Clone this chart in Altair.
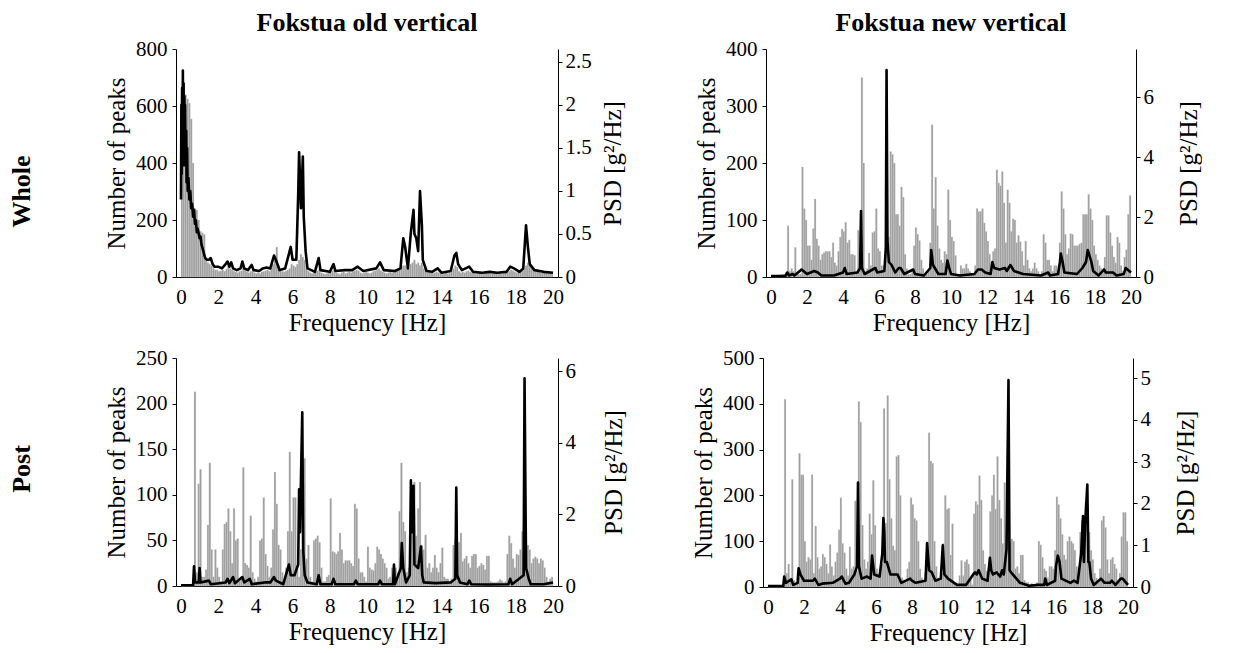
import altair as alt
import pandas as pd

# ---------------- data ----------------
# histogram bins: 0.1 Hz wide, starting at 0.0 ... 19.9 Hz
BIN_START = [round(k * 0.1, 1) for k in range(200)]

old_whole_counts = [
    650, 680, 640, 625, 610, 555, 400, 240, 235, 200,
    160, 155, 150, 60, 50, 45, 40, 30, 25, 25,
    20, 22, 25, 20, 28, 40, 30, 25, 20, 18,
    15, 20, 22, 35, 25, 18, 15, 20, 22, 15,
    12, 15, 12, 18, 20, 22, 25, 20, 30, 45,
    60, 105, 40, 25, 20, 18, 22, 25, 30, 45,
    40, 35, 45, 60, 80, 70, 60, 30, 20, 15,
    12, 15, 18, 22, 30, 15, 12, 10, 12, 15,
    18, 22, 25, 15, 12, 10, 15, 18, 12, 15,
    18, 15, 20, 22, 25, 22, 15, 12, 15, 18,
    15, 12, 15, 20, 22, 25, 30, 22, 18, 15,
    12, 15, 18, 15, 20, 22, 25, 30, 35, 40,
    40, 35, 30, 45, 50, 60, 45, 50, 40, 50,
    30, 20, 15, 18, 15, 12, 15, 18, 15, 12,
    10, 12, 15, 12, 15, 20, 30, 40, 35, 20,
    15, 18, 15, 20, 22, 18, 15, 12, 10, 12,
    15, 12, 10, 12, 15, 12, 10, 12, 15, 12,
    10, 12, 10, 12, 15, 18, 20, 25, 22, 18,
    15, 18, 22, 25, 30, 40, 50, 40, 30, 25,
    20, 22, 18, 15, 20, 18, 15, 12, 15, 12,
]

new_whole_counts = [
    2, 2, 3, 3, 3, 4, 5, 5, 8, 90,
    10, 15, 10, 52, 8, 5, 5, 193, 120, 100,
    55, 55, 30, 85, 137, 67, 55, 30, 40, 43,
    45, 45, 45, 35, 60, 25, 20, 45, 70, 84,
    80, 96, 60, 65, 40, 40, 38, 10, 82, 30,
    350, 200, 10, 15, 42, 20, 78, 80, 120, 50,
    45, 20, 20, 10, 175, 70, 220, 215, 200, 110,
    110, 90, 158, 140, 40, 15, 5, 5, 10, 55,
    87, 75, 64, 30, 15, 5, 5, 10, 60, 267,
    120, 175, 90, 50, 30, 25, 45, 40, 153, 100,
    70, 63, 38, 5, 5, 20, 15, 15, 23, 15,
    10, 5, 5, 20, 120, 115, 115, 120, 95, 80,
    63, 40, 25, 45, 50, 188, 165, 160, 185, 130,
    60, 153, 130, 80, 102, 100, 60, 73, 62, 45,
    20, 63, 30, 15, 10, 15, 25, 15, 10, 5,
    10, 75, 60, 30, 30, 20, 10, 20, 20, 10,
    60, 150, 120, 75, 40, 50, 76, 75, 55, 55,
    55, 58, 60, 110, 110, 110, 145, 120, 100, 55,
    40, 30, 20, 15, 10, 35, 108, 108, 78, 55,
    35, 25, 70, 60, 20, 10, 35, 48, 110, 143,
]

old_post_counts = [
    0, 0, 0, 0, 0, 0, 0, 213, 15, 112,
    128, 10, 10, 18, 67, 135, 40, 10, 40, 20,
    10, 5, 40, 68, 70, 85, 60, 25, 85, 50,
    52, 5, 10, 130, 25, 23, 20, 77, 15, 8,
    5, 10, 50, 52, 97, 35, 22, 10, 20, 62,
    125, 90, 45, 40, 15, 5, 20, 60, 147, 60,
    97, 97, 20, 10, 40, 120, 140, 30, 45, 10,
    5, 50, 52, 55, 48, 20, 5, 5, 10, 12,
    96, 38, 37, 35, 38, 58, 40, 25, 28, 28,
    28, 25, 22, 90, 85, 30, 15, 15, 10, 5,
    43, 20, 18, 17, 25, 43, 40, 35, 30, 25,
    20, 8, 10, 20, 22, 20, 15, 82, 135, 70,
    60, 15, 20, 80, 110, 114, 55, 85, 114, 45,
    40, 56, 20, 25, 15, 20, 34, 20, 15, 25,
    42, 10, 8, 8, 5, 8, 45, 50, 15, 48,
    58, 27, 30, 33, 25, 20, 33, 35, 35, 20,
    22, 25, 23, 18, 33, 33, 5, 4, 4, 4,
    5, 7, 6, 4, 5, 35, 55, 47, 30, 20,
    35, 34, 40, 60, 68, 60, 45, 40, 25, 30,
    32, 30, 25, 30, 28, 20, 10, 5, 8, 10,
]

new_post_counts = [
    0, 0, 0, 0, 0, 0, 0, 0, 0, 410,
    30, 50, 20, 235, 15, 10, 30, 292, 245, 245,
    100, 55, 65, 60, 245, 30, 133, 65, 40, 45,
    72, 65, 50, 30, 93, 45, 25, 55, 75, 125,
    195, 95, 75, 40, 25, 88, 40, 45, 188, 35,
    405, 360, 135, 60, 40, 55, 160, 115, 233, 135,
    40, 30, 30, 50, 390, 140, 418, 235, 150, 90,
    80, 285, 288, 200, 20, 15, 10, 40, 55, 195,
    180, 150, 145, 100, 40, 20, 10, 30, 95, 337,
    275, 270, 100, 45, 20, 15, 25, 95, 200, 170,
    172, 70, 138, 10, 5, 5, 25, 58, 25, 55,
    60, 50, 20, 5, 160, 187, 180, 243, 190, 80,
    50, 35, 20, 165, 200, 245, 170, 285, 190, 150,
    95, 228, 120, 115, 100, 105, 100, 40, 45, 30,
    70, 70, 15, 10, 10, 5, 8, 5, 5, 10,
    100, 92, 65, 40, 35, 20, 45, 45, 40, 80,
    197, 180, 150, 115, 70, 60, 100, 110, 100, 95,
    80, 45, 40, 120, 145, 150, 185, 150, 120, 80,
    60, 30, 20, 10, 40, 145, 155, 130, 60, 30,
    60, 65, 50, 40, 10, 30, 110, 163, 163, 100,
]

# PSD curves: (frequency [Hz], PSD [g^2/Hz])
old_whole_psd = [
    (0.0, 0.9), (0.02, 2.0), (0.04, 1.2), (0.06, 2.2), (0.08, 1.4), (0.1, 2.4),
    (0.12, 1.5), (0.14, 2.25), (0.16, 1.3), (0.18, 2.1), (0.2, 1.6), (0.22, 2.0),
    (0.25, 1.3), (0.28, 1.7), (0.3, 1.1), (0.33, 1.5), (0.36, 1.0), (0.4, 1.15),
    (0.45, 0.9), (0.5, 1.0), (0.55, 0.8), (0.6, 0.85), (0.65, 0.7), (0.7, 0.78),
    (0.75, 0.62), (0.8, 0.66), (0.85, 0.52), (0.9, 0.56), (1.0, 0.45), (1.05, 0.47),
    (1.1, 0.38), (1.2, 0.3), (1.3, 0.22), (1.4, 0.2), (1.5, 0.2), (1.6, 0.22),
    (1.7, 0.15),
    (1.8, 0.12), (2.0, 0.12), (2.2, 0.1), (2.4, 0.15), (2.5, 0.18), (2.6, 0.12),
    (2.7, 0.17), (2.8, 0.1), (3.0, 0.08), (3.2, 0.1), (3.3, 0.18), (3.4, 0.1),
    (3.6, 0.08), (3.8, 0.14), (3.9, 0.08), (4.2, 0.07), (4.4, 0.1), (4.6, 0.11),
    (4.8, 0.1), (5.0, 0.25), (5.1, 0.2), (5.3, 0.08), (5.6, 0.1), (5.9, 0.35),
    (6.0, 0.2), (6.2, 0.2), (6.3, 0.95), (6.35, 1.45), (6.45, 0.8), (6.55, 1.4),
    (6.6, 0.7), (6.7, 0.3), (6.8, 0.1), (7.2, 0.06), (7.4, 0.22), (7.5, 0.08),
    (8.0, 0.06), (8.2, 0.15), (8.3, 0.07), (8.8, 0.08), (9.2, 0.08), (9.5, 0.12),
    (9.8, 0.07), (10.5, 0.1), (10.7, 0.17), (10.9, 0.08), (11.5, 0.07), (11.8, 0.1),
    (11.95, 0.45), (12.05, 0.35), (12.2, 0.1), (12.35, 0.5), (12.5, 0.78), (12.55, 0.5),
    (12.65, 0.45), (12.75, 0.3), (12.85, 1.0), (12.95, 0.6), (13.0, 0.2), (13.2, 0.07),
    (13.5, 0.06), (13.8, 0.1), (14.0, 0.05), (14.5, 0.07), (14.7, 0.25), (14.8, 0.28),
    (14.9, 0.15), (15.1, 0.08), (15.5, 0.12), (15.7, 0.06), (16.2, 0.05), (16.6, 0.06),
    (17.0, 0.05), (17.5, 0.06), (17.7, 0.12), (17.9, 0.1), (18.2, 0.06), (18.4, 0.1),
    (18.55, 0.6), (18.65, 0.35), (18.75, 0.15), (19.0, 0.08), (19.5, 0.06), (20.0, 0.05),
]

new_whole_psd = [
    (0.0, 0.03), (0.8, 0.04), (0.9, 0.15), (1.0, 0.05), (1.2, 0.1), (1.3, 0.05),
    (1.7, 0.25), (1.8, 0.2), (2.0, 0.1), (2.4, 0.2), (2.6, 0.15), (2.8, 0.05),
    (3.5, 0.05), (4.0, 0.15), (4.1, 0.3), (4.2, 0.1), (4.8, 0.15), (4.95, 0.3),
    (5.0, 2.2), (5.05, 0.3), (5.2, 0.1), (5.8, 0.3), (5.9, 0.15), (6.3, 0.2),
    (6.38, 1.0), (6.42, 6.9), (6.47, 1.2), (6.55, 0.5), (6.7, 0.4), (6.9, 0.15),
    (7.1, 0.3), (7.2, 0.3), (7.4, 0.1), (7.9, 0.25), (8.0, 0.1), (8.5, 0.05),
    (8.85, 0.3), (8.9, 0.9), (9.0, 0.4), (9.1, 0.3), (9.3, 0.1), (9.7, 0.1),
    (9.8, 0.55), (9.9, 0.3), (10.0, 0.1), (10.5, 0.05), (11.3, 0.1), (11.5, 0.25),
    (11.7, 0.25), (11.9, 0.15), (12.2, 0.1), (12.3, 0.5), (12.4, 0.3), (12.7, 0.25),
    (13.0, 0.3), (13.1, 0.2), (13.3, 0.4), (13.5, 0.2), (14.0, 0.1), (15.0, 0.05),
    (15.4, 0.15), (15.5, 0.05), (15.95, 0.1), (16.05, 0.5), (16.1, 0.78), (16.2, 0.5),
    (16.3, 0.15), (17.0, 0.1), (17.3, 0.3), (17.5, 0.5), (17.6, 0.9), (17.7, 0.7),
    (17.8, 0.5), (17.9, 0.2), (18.2, 0.05), (18.5, 0.25), (18.6, 0.15), (19.0, 0.15),
    (19.2, 0.05), (19.6, 0.1), (19.7, 0.3), (19.8, 0.25), (20.0, 0.15),
]

old_post_psd = [
    (0.0, 0.02), (0.65, 0.02), (0.7, 0.55), (0.75, 0.1), (0.95, 0.1), (1.0, 0.5),
    (1.05, 0.1), (1.5, 0.15), (1.6, 0.05), (2.4, 0.1), (2.5, 0.2), (2.6, 0.08),
    (2.8, 0.25), (2.9, 0.08), (3.3, 0.25), (3.4, 0.1), (3.7, 0.2), (3.8, 0.05),
    (4.5, 0.1), (4.8, 0.1), (5.0, 0.25), (5.1, 0.15), (5.5, 0.05), (5.8, 0.6),
    (5.9, 0.3), (6.1, 0.3), (6.3, 0.6), (6.35, 2.7), (6.4, 1.5), (6.45, 3.0),
    (6.52, 4.85), (6.57, 1.0), (6.65, 0.3), (6.8, 0.1), (7.3, 0.05), (7.4, 0.3),
    (7.5, 0.05), (8.1, 0.05), (8.2, 0.2), (8.3, 0.05), (9.3, 0.05), (9.4, 0.15),
    (9.5, 0.05), (10.6, 0.05), (10.7, 0.15), (10.8, 0.05),
    (11.4, 0.05), (11.45, 0.6), (11.5, 0.05), (11.82, 0.5), (11.87, 1.2), (11.95, 0.5),
    (12.1, 0.1), (12.3, 0.3), (12.36, 2.95), (12.42, 1.5), (12.5, 2.8), (12.55, 0.6),
    (12.65, 0.55), (12.75, 0.5), (12.9, 1.1), (12.97, 0.3), (13.05, 0.1), (13.7, 0.08),
    (14.5, 0.1), (14.75, 0.2), (14.8, 2.75), (14.85, 0.3), (15.0, 0.1), (15.4, 0.05),
    (15.5, 0.15), (15.6, 0.05), (16.5, 0.04), (17.6, 0.05), (17.7, 0.2), (17.8, 0.05),
    (18.42, 0.3), (18.47, 5.8), (18.55, 0.5), (18.7, 0.2), (18.8, 0.05), (19.5, 0.05),
    (20.0, 0.1),
]

new_post_psd = [
    (0.0, 0.02), (0.85, 0.02), (0.9, 0.25), (1.0, 0.1), (1.3, 0.18), (1.4, 0.05),
    (1.65, 0.1), (1.7, 0.45), (1.8, 0.3), (2.0, 0.15), (2.5, 0.15), (2.6, 0.2),
    (2.8, 0.05), (3.0, 0.08), (3.6, 0.1), (4.0, 0.2), (4.1, 0.25), (4.3, 0.08),
    (4.5, 0.1), (4.8, 0.3), (4.95, 0.5), (5.0, 2.5), (5.05, 0.5), (5.2, 0.2),
    (5.5, 0.25), (5.7, 0.2), (5.78, 0.75), (5.9, 0.3), (6.2, 0.25), (6.35, 0.8),
    (6.41, 1.65), (6.46, 1.3), (6.5, 0.6), (6.6, 0.6), (6.8, 0.3), (7.1, 0.3),
    (7.2, 0.3), (7.4, 0.1), (7.9, 0.2), (8.0, 0.15), (8.2, 0.1), (8.75, 0.15),
    (8.84, 1.05), (8.95, 0.4), (9.1, 0.35), (9.3, 0.15), (9.6, 0.2), (9.71, 1.0),
    (9.8, 0.3), (10.0, 0.2), (10.5, 0.05), (11.0, 0.05), (11.4, 0.3), (11.5, 0.35),
    (11.6, 0.3), (11.7, 0.4), (11.9, 0.2), (12.2, 0.15), (12.33, 0.7), (12.4, 0.4),
    (12.5, 0.3), (12.7, 0.35), (12.9, 0.25), (13.0, 0.4), (13.1, 0.3), (13.25, 0.9),
    (13.36, 4.95), (13.42, 0.4), (13.5, 0.35), (13.6, 0.3), (13.8, 0.2), (14.0, 0.1),
    (14.5, 0.03), (15.0, 0.05), (15.35, 0.05), (15.4, 0.2), (15.5, 0.05), (15.95, 0.15),
    (16.0, 0.5), (16.1, 0.75), (16.2, 0.6), (16.3, 0.2), (16.8, 0.1), (17.0, 0.15),
    (17.2, 0.1), (17.4, 0.8), (17.5, 1.7), (17.55, 0.6), (17.62, 1.5), (17.74, 2.45),
    (17.8, 0.6), (17.85, 0.6), (17.95, 0.2), (18.1, 0.05), (18.5, 0.2), (18.7, 0.1),
    (19.0, 0.1), (19.1, 0.15), (19.3, 0.05), (19.6, 0.2), (19.7, 0.2), (19.9, 0.1),
    (20.0, 0.05),
]

X_TICKS = list(range(0, 21, 2))
FONT = "Liberation Serif"


def x_axis():
    return alt.Axis(values=X_TICKS, title="Frequency [Hz]", ticks=False,
                    labelPadding=9, titlePadding=3, labelFlush=False)


def panel(counts, psd, cmax, cticks, pmax, pticks, width, height,
          psd_title_pad, title=None):
    bars_df = pd.DataFrame({"f": BIN_START, "n": counts})
    psd_df = pd.DataFrame(psd, columns=["f", "p"])
    xscale = alt.Scale(domain=[0, 20], nice=False, zero=False)

    bars = alt.Chart(bars_df).transform_calculate(
        f2="datum.f + 0.1", base="0"
    ).mark_bar(orient="vertical", color="#9d9d9d", stroke="#d4d4d4",
               strokeWidth=0.3).encode(
        x=alt.X("f:Q", scale=xscale, axis=x_axis()),
        x2="f2:Q",
        y=alt.Y("n:Q", scale=alt.Scale(domain=[0, cmax], nice=False),
                axis=alt.Axis(orient="left", title="Number of peaks",
                              values=cticks, titlePadding=6,
                              labelPadding=5)),
        y2="base:Q",
    )
    line = alt.Chart(psd_df).mark_line(
        color="black", strokeWidth=2.6, strokeJoin="round", clip=True
    ).encode(
        x=alt.X("f:Q", scale=xscale, axis=x_axis()),
        y=alt.Y("p:Q", scale=alt.Scale(domain=[0, pmax], nice=False),
                axis=alt.Axis(orient="right", title="PSD [g²/Hz]",
                              values=pticks, format="~g",
                              titleAngle=270, titleBaseline="top",
                              titlePadding=psd_title_pad, labelPadding=3)),
    )
    ch = alt.layer(bars, line).resolve_scale(y="independent").properties(
        width=width, height=height
    )
    if title:
        ch = ch.properties(title=alt.Title(title, fontSize=26, fontWeight="bold",
                                           font=FONT, offset=2, color="black"))
    return ch


p_tl = panel(old_whole_counts, old_whole_psd, 800, [0, 200, 400, 600, 800],
             2.65, [0, 0.5, 1, 1.5, 2, 2.5], 382, 228, 9,
             "Fokstua old vertical")
p_tr = panel(new_whole_counts, new_whole_psd, 400, [0, 100, 200, 300, 400],
             7.6, [0, 2, 4, 6], 370, 228, 23, "Fokstua new vertical")
p_bl = panel(old_post_counts, old_post_psd, 250, [0, 50, 100, 150, 200, 250],
             6.37, [0, 2, 4, 6], 382, 228, 26)
p_br = panel(new_post_counts, new_post_psd, 500, [0, 100, 200, 300, 400, 500],
             5.48, [0, 1, 2, 3, 4, 5], 370, 229, 23)

row_title = dict(orient="left", anchor="middle", fontSize=26,
                 fontWeight="bold", font=FONT, color="black", offset=70)

row1 = alt.hconcat(p_tl, p_tr, spacing=68,
                   title=alt.Title("Whole", dx=-19, **row_title))
row2 = alt.hconcat(p_bl, p_br, spacing=64,
                   title=alt.Title("Post", dx=27, **row_title))

chart = alt.vconcat(row1, row2, spacing=12).properties(
    padding={"left": 0, "top": 2, "right": 0, "bottom": 0}
).configure(font=FONT).configure_axis(
    labelFont=FONT, titleFont=FONT, labelFontSize=21, titleFontSize=25,
    titleFontWeight="normal", labelColor="black", titleColor="black",
    domainColor="black", tickColor="black", grid=False, tickSize=4,
    domainWidth=1, tickWidth=1,
).configure_view(stroke=None)

chart.save("out.html", embed_options={"renderer": "svg", "actions": False})
